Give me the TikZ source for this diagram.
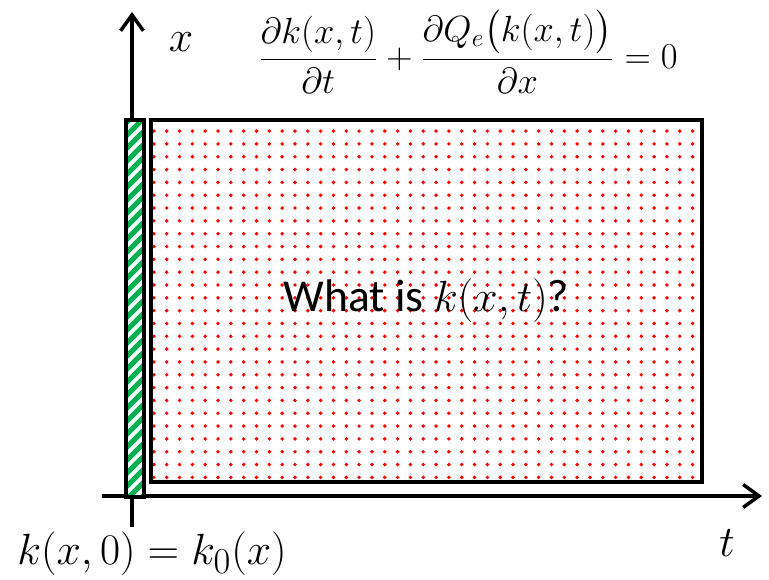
\documentclass[tikz,border=0pt]{standalone}
\usepackage{amsmath}
\usepackage{fontspec}
\setmainfont{Carlito}
\usetikzlibrary{arrows.meta,patterns.meta,positioning}
\definecolor{stripgreen}{RGB}{0,176,80}

\begin{document}
\begin{tikzpicture}[
    x=0.02cm, y=-0.02cm,
    axis/.style={line width=2pt, -{Straight Barb[length=9pt,width=13pt,line width=2pt]}},
    initstrip/.style={draw, fill=white, line width=2pt, inner sep=0pt, outer sep=0pt, anchor=north west, minimum width=0.36cm, minimum height=7.54cm},
    stripe/.style={stripgreen, line width=3pt},
    fieldbox/.style={draw, line width=2pt, inner sep=0pt, outer sep=0pt, anchor=north west, minimum width=11.02cm, minimum height=7.24cm,
        pattern={Dots[distance=7.3pt,radius=1.1pt]}, pattern color=red},
    lbl/.style={inner sep=0pt, font=\fontsize{26}{30}\selectfont},
    eqlbl/.style={inner sep=0pt, font=\fontsize{21}{25}\selectfont}
]
    \useasboundingbox (0,0) rectangle (769,580);

    % axes
    \coordinate (tstart) at (102,496);
    \coordinate (tend) at (762,496);
    \coordinate (xstart) at (132,527);
    \coordinate (xend) at (132,12);
    \draw[axis] (tstart) -- (tend);
    \draw[axis] (xstart) -- (xend);

    % regions
    \node[initstrip] (init) at (126,120) {};
    \begin{scope}
        \clip (126,120) rectangle (144,496);
        \foreach \y in {110,123,...,520}
            \draw[stripe] (120,\y+6) -- (150,\y-24);
    \end{scope}
    \draw[line width=2pt] (init.north west) rectangle (init.south east);
    \node[fieldbox] (region) at (151,120) {};

    % labels
    \node[lbl, font=\fontsize{30}{34}\selectfont] (xlabel) at (181,42) {$x$};
    \node[lbl, font=\fontsize{30}{34}\selectfont] (tlabel) at (727,543) {$t$};
    \node[eqlbl] (pde) at (468,52) {$\dfrac{\partial k(x,t)}{\partial t}+\dfrac{\partial Q_e\bigl(k(x,t)\bigr)}{\partial x}=0$};
    \node[lbl] (question) at (region.center) {What is $k(x,t)$?};
    \node[lbl, font=\fontsize{28}{32}\selectfont] (initcond) at (152,554) {$k(x,0)=k_0(x)$};
\end{tikzpicture}
\end{document}
